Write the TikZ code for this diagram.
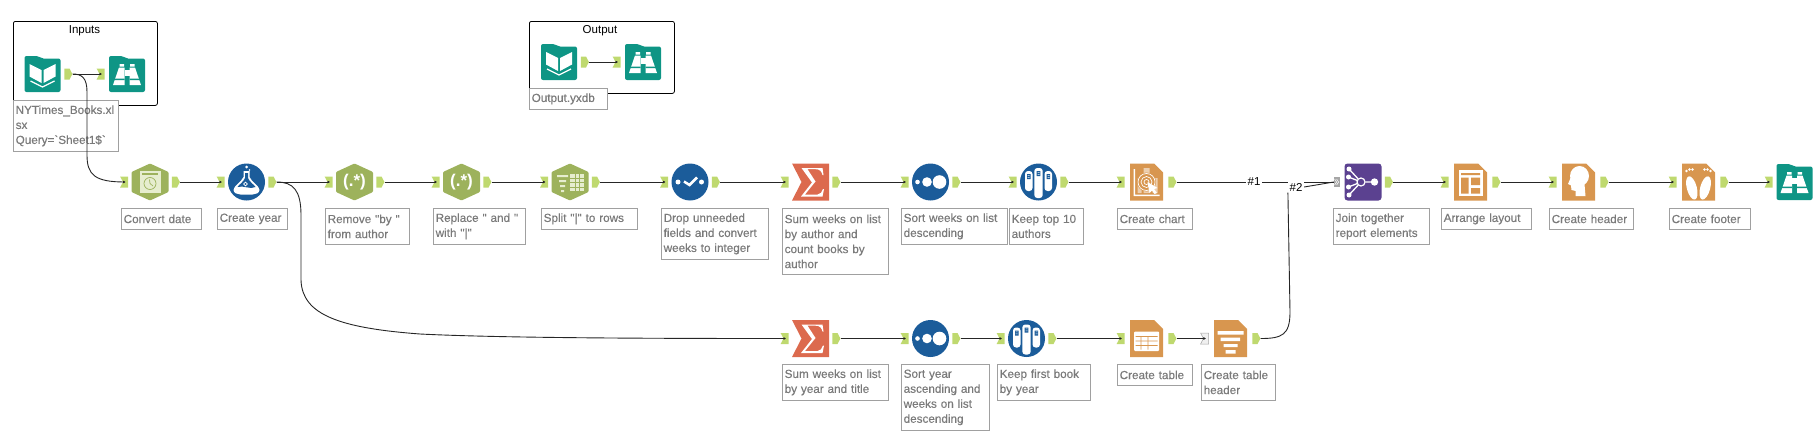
\documentclass[tikz,border=0pt]{standalone}
\usepackage{fontspec}
\setmainfont{Liberation Sans}
\newfontfamily\notefont{Liberation Sans}[FakeBold=0.3]
\usetikzlibrary{arrows.meta, positioning}
\usetikzlibrary{shapes.symbols}
\definecolor{folderteal}{HTML}{0E9585}
\definecolor{hexolive}{HTML}{9DB25C}
\definecolor{hexpale}{HTML}{E6EDCF}
\definecolor{discblue}{HTML}{1B5C9A}
\definecolor{sumred}{HTML}{DC6A4E}
\definecolor{docorange}{HTML}{D8964F}
\definecolor{joinpurple}{HTML}{5B4190}
\definecolor{portgreen}{HTML}{BFD96F}
\definecolor{notetext}{HTML}{7A7A7A}
\definecolor{noteline}{HTML}{A0A0A0}

\begin{document}
\begin{tikzpicture}[
			x=1pt, y=-1pt,
			tool/.style={minimum size=37pt, inner sep=0pt},
			regex/.style={text=white, font=\fontsize{17}{17}\selectfont\bfseries},
			outport/.style={signal, signal to=east, signal pointer angle=125, fill=portgreen, minimum width=8pt, minimum height=11pt, inner sep=0pt},
			inport/.style={signal, signal to=nowhere, signal from=west, signal pointer angle=125, fill=portgreen, minimum width=8pt, minimum height=11pt, inner sep=0pt},
			greyport/.style={inport, fill=gray!12, draw=gray!70, line width=0.5pt},
			multiport/.style={fill=gray!70, minimum width=6pt, minimum height=10pt, inner sep=0pt},
			note/.style 2 args={draw=noteline, fill=white, anchor=north west, text=notetext, align=left, inner xsep=2.3pt, inner ysep=0pt,
				font=\notefont\fontsize{11.7}{15}\selectfont, text width={#1pt-4.6pt}, minimum height=#2pt, line width=0.8pt},
			groupbox/.style={draw=black, rounded corners=2pt, anchor=north west, line width=0.8pt},
			grouptitle/.style={font=\fontsize{11.5}{14}\selectfont, inner sep=1pt},
			wiretag/.style={fill=white, font=\fontsize{11.5}{14}\selectfont, inner sep=1.5pt},
			edge/.style={-{Latex[length=2.5pt,width=3pt]}, line width=0.9pt, black!85},
			folderbody/.pic={\fill[folderteal, rounded corners=2pt] (-18,18) -- (-18,-18) -- (-4,-18) -- (-1,-15.5) -- (18,-15.5) -- (18,18) -- cycle;},
			bookicon/.pic={\pic {folderbody};
				\fill[white] (-13,-10) -- (-1,-4) -- (-1,9) -- (-13,2.5) -- cycle (13,-10) -- (1,-4) -- (1,9) -- (13,2.5) -- cycle;
				\draw[white, line width=1.2pt] (-12,7) -- (0,13) -- (12,7);},
			binocicon/.pic={\pic {folderbody};
				\fill[white] (-7.5,-10) rectangle (-3,-7.5) (3,-10) rectangle (7.5,-7.5);
				\fill[white] (-8,-6.5) -- (-2.5,-6.5) -- (-2.5,11) -- (-14,11) -- cycle (8,-6.5) -- (2.5,-6.5) -- (2.5,11) -- (14,11) -- cycle;
				\fill[white] (-2.5,-4) rectangle (2.5,2);
				\fill[folderteal] (-13,4.5) rectangle (-2.5,6) (13,4.5) rectangle (2.5,6);},
			hexbody/.pic={\fill[hexolive, rounded corners=1pt] (0,-18.5) -- (18.5,-10) -- (18.5,10) -- (0,18.5) -- (-18.5,10) -- (-18.5,-10) -- cycle;},
			clockicon/.pic={\pic {hexbody};
				\fill[hexpale] (-10.5,-11) rectangle (10.5,10.5);
				\fill[hexolive] (-8,-9.5) rectangle (7.5,-6.8);
				\draw[hexolive, line width=0.7pt] (0,1.5) circle[radius=6];
				\draw[hexolive, line width=0.7pt] (-0.5,-2.5) -- (0,1.5) -- (3,4);},
			spliticon/.pic={\pic {hexbody};
				\fill[hexpale] (-13,-7) rectangle (-2,-5) (-11,-2) rectangle (-4,0) (-10,3) rectangle (-5,5) (-9,8) rectangle (-6,10);
				\fill[hexpale] (0,-8) rectangle (14,9);
				\draw[hexolive, line width=0.8pt] (0,-4) -- (14,-4) (0,0.5) -- (14,0.5) (0,5) -- (14,5) (5,-8) -- (5,9) (9.5,-8) -- (9.5,9);},
			discbody/.pic={\fill[discblue] (0,0) circle[radius=18.5];},
			flaskicon/.pic={\pic {discbody};
				\fill[white] (0,-15) circle[radius=1.5] (3,-12) circle[radius=0.8];
				\fill[white] (-3,-11) -- (3,-11) -- (3,-5) .. controls (5,0) and (13,4) .. (13,8) .. controls (13,11) and (9,12.5) .. (6,12.5) -- (-6,12.5) .. controls (-9,12.5) and (-13,11) .. (-13,8) .. controls (-13,4) and (-5,0) .. (-3,-5) -- cycle;
				\fill[discblue] (-1.5,-9) -- (1.5,-9) -- (1.5,-4) .. controls (3,0) and (8,3) .. (9,5) .. controls (4,8) and (-3,3) .. (-9,5) .. controls (-8,3) and (-3,0) .. (-1.5,-4) -- cycle;
				\draw[white, line width=0.7pt] (-1,2) circle[radius=1.8];},
			selecticon/.pic={\pic {discbody};
				\fill[white] (-12,0) circle[radius=2.5] (11.5,0) circle[radius=2.5];
				\draw[white, line width=2.5pt] (-6,-0.5) -- (-0.5,3) -- (7,-4.5);},
			sorticon/.pic={\pic {discbody};
				\fill[white] (-13,0) circle[radius=2.3] (-3.5,0) circle[radius=4.8] (9,0) circle[radius=6.8];},
			sampleicon/.pic={\pic {discbody};
				\fill[white, rounded corners=3pt] (-13.5,-11) rectangle (-6,9);
				\fill[white, rounded corners=3pt] (-4.2,-14) rectangle (4.2,16);
				\fill[white, rounded corners=3pt] (6,-11) rectangle (13.5,9);
				\fill[discblue] (-11.5,-8) rectangle (-8,-3) (-1.8,-11) rectangle (1.8,-6) (8,-8) rectangle (11.5,-3);
				\fill[white] (-11,-7) rectangle (-9,-6.3) (-11,-5) rectangle (-9,-4.3) (-1,-10) rectangle (1,-9.3) (-1,-8) rectangle (1,-7.3) (9,-7) rectangle (11,-6.3) (9,-5) rectangle (11,-4.3);},
			sumicon/.pic={\fill[sumred] (-18.5,-18.5) -- (18.5,-18.5) -- (18.5,18.5) -- (-18.5,18.5) -- (-9,0) -- cycle;
				\fill[white] (-9,-14) -- (12,-14) -- (13,-7) -- (12,-7) .. controls (11,-11) and (9,-12.8) .. (5,-12.8) -- (-3,-12.8) -- (5,-0.5) -- (-5.5,12.5) -- (7,12.5) .. controls (10,12.5) and (11.5,10) .. (12.5,7) -- (13.5,7) -- (12,14.5) -- (-9.5,14.5) -- (1.5,0.5) -- cycle;},
			docbody/.pic={\fill[docorange] (-16.5,-18.5) -- (7.5,-18.5) -- (16.5,-9.5) -- (16.5,18.5) -- (-16.5,18.5) -- cycle;},
			charticon/.pic={\pic {docbody};
				\fill[white] (-13,-13) rectangle (-11.5,14) (-13,12.5) rectangle (13,14);
				\fill[white, opacity=0.55] (-9,-4) rectangle (-5,11) (-3,-14) rectangle (3,11) (6,-4) rectangle (11,11);
				\fill[docorange] (0,0) circle[radius=9.5];
				\draw[white, line width=0.7pt] (0,0) circle[radius=8.5] (0,0) circle[radius=5.5] (0,0) circle[radius=2.5];
				\fill[white] (1,0) -- (11,6) -- (7.5,7) -- (10.5,11) -- (8,12) -- (5.5,8.5) -- (3,11) -- cycle;},
			tableicon/.pic={\pic {docbody};
				\fill[white, rounded corners=1pt] (-12.5,-7) rectangle (12.5,12.5);
				\fill[docorange] (-11,-2.5) rectangle (11,-1.7) (-11,2) rectangle (11,2.8) (-11,6.5) rectangle (11,7.3);
				\fill[docorange] (-6,-2.5) rectangle (-5.2,11) (1,-2.5) rectangle (1.8,11);},
			headingicon/.pic={\pic {docbody};
				\fill[white] (-13,-7.5) rectangle (13,-4) (-10,-1) rectangle (9.5,2.5) (-7,5.5) rectangle (7,8.5) (-5,11.5) rectangle (5,15);},
			layouticon/.pic={\pic {docbody};
				\fill[white] (-12,-12) rectangle (12,14);
				\fill[docorange] (-9.5,-9) rectangle (9.5,-7) (-9.5,-4.5) rectangle (-2,11.5) (0.5,-4.5) rectangle (9.5,3) (0.5,6) rectangle (9.5,11.5);},
			headicon/.pic={\pic {docbody};
				\fill[white] (1,-6) ellipse[x radius=9.5, y radius=10];
				\fill[white] (-8,-4) -- (-10.5,2) -- (-7.5,3.5) -- (-7,8) -- (-3,9) -- (-3,14) -- (7,14) -- (6,2) -- cycle;},
			feeticon/.pic={\pic {docbody};
				\fill[white, rotate=15] (-8,4) ellipse[x radius=5, y radius=12];
				\fill[white, rotate=-15] (8,4) ellipse[x radius=5, y radius=12];
				\fill[white] (-12,-11) circle[radius=1.4] (-9,-12.5) circle[radius=1.4] (-6,-12.5) circle[radius=1.4] (12,-11) circle[radius=1.4] (9,-12.5) circle[radius=1.4] (6,-12.5) circle[radius=1.4];},
			joinicon/.pic={\fill[joinpurple, rounded corners=3pt] (-18.5,-18.5) rectangle (18.5,18.5);
				\draw[white, line width=1.3pt] (-14,-13) -- (-2,0) (-14.5,-5) -- (-2,0) (-14.5,5) -- (-2,0) (-14,13) -- (-2,0) (-2,0) -- (11,0);
				\fill[white] (-14,-13) circle[radius=2.5] (-14.5,-5) circle[radius=2.5] (-14.5,5) circle[radius=2.5] (-14,13) circle[radius=2.5] (11.5,0) circle[radius=3.7];
				\fill[joinpurple] (-2,0) circle[radius=4.5];
				\draw[white, line width=1.2pt] (-2,0) circle[radius=4];},
			multimarks/.pic={\draw[white, line width=0.5pt] (-2.5,-3) -- (-0.5,0) -- (-2.5,3) (-0.5,-3) -- (1.5,0) -- (-0.5,3);}
			]
			\useasboundingbox (0,0) rectangle (1820,447);
			
			% ---------------- INPUTS AND OUTPUT GROUPS ----------------
			\node[groupbox, minimum width=144pt, minimum height=84pt] (inputs) at (13,21) {};
			\node[grouptitle] (inputstitle) at (84.5,31) {Inputs};
			\node[tool] (book) at (42.5,74) {}; \pic at (book) {bookicon};
			\node[outport, right=3pt of book] (bookout) {};
			\node[tool] (peek) at (127,74) {}; \pic at (peek) {binocicon};
			\node[inport, left=3.5pt of peek] (peekin) {};
			\node[note={105}{51}] (booknote) at (13,100) {NYTimes\_Books.xl\\sx\\Query=\symbol{96}Sheet1\$\symbol{96}};
			
			\node[groupbox, minimum width=145pt, minimum height=72pt] (output) at (529,21) {};
			\node[grouptitle] (outputtitle) at (600,31) {Output};
			\node[tool] (outbook) at (559,62) {}; \pic at (outbook) {bookicon};
			\node[outport, right=3pt of outbook] (outbookout) {};
			\node[tool] (outpeek) at (643,62) {}; \pic at (outpeek) {binocicon};
			\node[inport, left=3.5pt of outpeek] (outpeekin) {};
			\node[note={78}{21}] (outnote) at (529,88) {Output.yxdb};
			
			% ---------------- UPPER ROW ----------------
			\node[tool] (convert) at (150,182) {}; \pic at (convert) {clockicon};
			\node[inport, left=3pt of convert] (convertin) {};
			\node[outport, right=3pt of convert] (convertout) {};
			\node[note={80}{21}] (convertnote) at (121,208) {Convert date};
			
			\node[tool] (year) at (246.5,182) {}; \pic at (year) {flaskicon};
			\node[inport, left=3pt of year] (yearin) {};
			\node[outport, right=3pt of year] (yearout) {};
			\node[note={70}{21}] (yearnote) at (217,208) {Create year};
			
			\pic at (354.5,182) {hexbody};
			\node[tool, regex] (remove) at (354.5,182) {(.*)};
			\node[inport, left=3pt of remove] (removein) {};
			\node[outport, right=3pt of remove] (removeout) {};
			\node[note={84}{36}] (removenote) at (325,208) {Remove "by "\\from author};
			
			\pic at (461.5,182) {hexbody};
			\node[tool, regex] (replace) at (461.5,182) {(.*)};
			\node[inport, left=3pt of replace] (replacein) {};
			\node[outport, right=3pt of replace] (replaceout) {};
			\node[note={92}{36}] (replacenote) at (433,208) {Replace " and "\\with "|"};
			
			\node[tool] (split) at (570,182) {}; \pic at (split) {spliticon};
			\node[inport, left=3pt of split] (splitin) {};
			\node[outport, right=3pt of split] (splitout) {};
			\node[note={96}{21}] (splitnote) at (541,208) {Split "|" to rows};
			
			\node[tool] (drop) at (690,182) {}; \pic at (drop) {selecticon};
			\node[inport, left=3pt of drop] (dropin) {};
			\node[outport, right=3pt of drop] (dropout) {};
			\node[note={107}{51}] (dropnote) at (661,208) {Drop unneeded\\fields and convert\\weeks to integer};
			
			\node[tool] (sum) at (810.5,182) {}; \pic at (sum) {sumicon};
			\node[inport, left=3pt of sum] (sumin) {};
			\node[outport, right=3pt of sum] (sumout) {};
			\node[note={106}{66}] (sumnote) at (782,208) {Sum weeks on list\\by author and\\count books by\\author};
			
			\node[tool] (sort) at (930.5,182) {}; \pic at (sort) {sorticon};
			\node[inport, left=3pt of sort] (sortin) {};
			\node[outport, right=3pt of sort] (sortout) {};
			\node[note={106}{36}] (sortnote) at (901,208) {Sort weeks on list\\descending};
			
			\node[tool] (keep) at (1038.5,182) {}; \pic at (keep) {sampleicon};
			\node[inport, left=3pt of keep] (keepin) {};
			\node[outport, right=3pt of keep] (keepout) {};
			\node[note={74}{36}] (keepnote) at (1009,208) {Keep top 10\\authors};
			
			\node[tool] (chart) at (1146.5,182) {}; \pic at (chart) {charticon};
			\node[inport, left=3pt of chart] (chartin) {};
			\node[outport, right=3pt of chart] (chartout) {};
			\node[note={75}{21}] (chartnote) at (1117,208) {Create chart};
			
			\node[tool] (union) at (1363,182) {}; \pic at (union) {joinicon};
			\node[multiport, left=4pt of union] (unionin) {}; \pic at (unionin) {multimarks};
			\node[outport, right=3pt of union] (unionout) {};
			\node[note={96}{36}] (unionnote) at (1333,208) {Join together\\report elements};
			
			\node[tool] (layout) at (1470.5,182) {}; \pic at (layout) {layouticon};
			\node[inport, left=3pt of layout] (layoutin) {};
			\node[outport, right=3pt of layout] (layoutout) {};
			\node[note={90}{21}] (layoutnote) at (1441,208) {Arrange layout};
			
			\node[tool] (header) at (1578.5,182) {}; \pic at (header) {headicon};
			\node[inport, left=3pt of header] (headerin) {};
			\node[outport, right=3pt of header] (headerout) {};
			\node[note={84}{21}] (headernote) at (1549,208) {Create header};
			
			\node[tool] (footer) at (1698.5,182) {}; \pic at (footer) {feeticon};
			\node[inport, left=3pt of footer] (footerin) {};
			\node[outport, right=3pt of footer] (footerout) {};
			\node[note={81}{21}] (footernote) at (1669,208) {Create footer};
			
			\node[tool] (finish) at (1794.5,182) {}; \pic at (finish) {binocicon};
			\node[inport, left=3pt of finish] (finishin) {};
			
			% ---------------- LOWER ROW ----------------
			\node[tool] (yearsum) at (810.5,338.5) {}; \pic at (yearsum) {sumicon};
			\node[inport, left=3pt of yearsum] (yearsumin) {};
			\node[outport, right=3pt of yearsum] (yearsumout) {};
			\node[note={106}{36}] (yearsumnote) at (782,364) {Sum weeks on list\\by year and title};
			
			\node[tool] (yearsort) at (930.5,338.5) {}; \pic at (yearsort) {sorticon};
			\node[inport, left=3pt of yearsort] (yearsortin) {};
			\node[outport, right=3pt of yearsort] (yearsortout) {};
			\node[note={88}{66}] (yearsortnote) at (901,364) {Sort year\\ascending and\\weeks on list\\descending};
			
			\node[tool] (first) at (1026.5,338.5) {}; \pic at (first) {sampleicon};
			\node[inport, left=3pt of first] (firstin) {};
			\node[outport, right=3pt of first] (firstout) {};
			\node[note={93}{36}] (firstnote) at (997,364) {Keep first book\\by year};
			
			\node[tool] (table) at (1146.5,338.5) {}; \pic at (table) {tableicon};
			\node[inport, left=3pt of table] (tablein) {};
			\node[outport, right=3pt of table] (tableout) {};
			\node[note={75}{21}] (tablenote) at (1117,364) {Create table};
			
			\node[tool] (heading) at (1230.5,338.5) {}; \pic at (heading) {headingicon};
			\node[greyport, left=3pt of heading] (headingin) {};
			\node[outport, right=3pt of heading] (headingout) {};
			\node[note={74}{36}] (headingnote) at (1201,364) {Create table\\header};
			
			% ---------------- CONNECTIONS ----------------
			\draw[edge] (bookout.east) -- (peekin.center);
			\draw[edge] (outbookout.east) -- (outpeekin.center);
			\draw[edge] (bookout.east) .. controls (82,74) and (87,78) .. (87,92) -- (87,155) .. controls (87,175) and (95,182) .. (125,182) -- (convertin.center);
			\draw[edge] (convertout.east) -- (yearin.center);
			\draw[edge] (yearout.east) -- (removein.center);
			\draw[edge] (removeout.east) -- (replacein.center);
			\draw[edge] (replaceout.east) -- (splitin.center);
			\draw[edge] (splitout.east) -- (dropin.center);
			\draw[edge] (dropout.east) -- (sumin.center);
			\draw[edge] (sumout.east) -- (sortin.center);
			\draw[edge] (sortout.east) -- (keepin.center);
			\draw[edge] (keepout.east) -- (chartin.center);
			\draw[edge, -] (chartout.east) -- (unionin.west);
			\draw[edge] (unionout.east) -- (layoutin.center);
			\draw[edge] (layoutout.east) -- (headerin.center);
			\draw[edge] (headerout.east) -- (footerin.center);
			\draw[edge] (footerout.east) -- (finishin.center);
			\draw[edge] (yearout.east) .. controls (293,182) and (301,190) .. (301,215) -- (301,280) .. controls (302,315) and (340,328) .. (420,334) .. controls (500,338) and (650,338.5) .. (yearsumin.center);
			\draw[edge] (yearsumout.east) -- (yearsortin.center);
			\draw[edge] (yearsortout.east) -- (firstin.center);
			\draw[edge] (firstout.east) -- (tablein.center);
			\draw[edge] (tableout.east) -- (headingin.center);
			
			\node[wiretag] (wireone) at (1254,182) {\#1};
			\node[wiretag] (wiretwo) at (1296,187) {\#2};
			\draw[edge, -] (wiretwo.east) -- (unionin.west);
			\draw[edge, -] (headingout.east) .. controls (1282,338.5) and (1290,335) .. (1290,312) -- (wiretwo.south west);
			
		\end{tikzpicture}
\end{document}
